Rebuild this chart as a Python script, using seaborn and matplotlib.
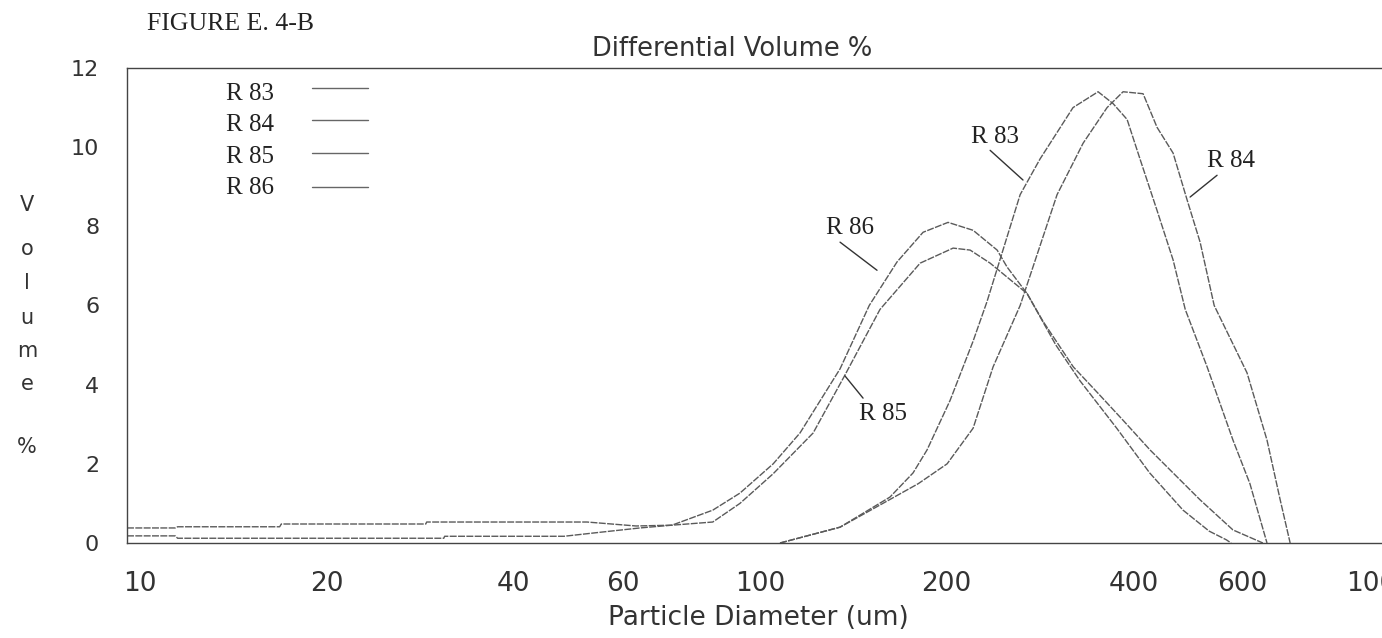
import numpy as np
import pandas as pd
import matplotlib
matplotlib.use("Agg")
import matplotlib.pyplot as plt
import seaborn as sns

# ---------------- data ----------------
runs = ["R 83", "R 84", "R 85", "R 86"]

r83_d = [107.7, 134.6, 162, 176.5, 185.9, 202.5, 220.6, 232.3, 262.7, 282.8, 319.7,
         350.9, 371, 390.8, 410, 436.8, 463.6, 485, 526, 579, 616.6, 657]
r83_v = [0, 0.4, 1.16, 1.77, 2.35, 3.6, 5.1, 6.1, 8.8, 9.7, 11.0,
         11.4, 11.1, 10.7, 9.7, 8.4, 7.15, 5.9, 4.45, 2.6, 1.5, 0]

r84_d = [107.7, 134.6, 162, 180, 200.3, 220.6, 237.6, 262.7, 301.3, 331.9, 362.8,
         385, 414.7, 436.8, 463.6, 488.5, 512.5, 540, 610, 657, 690, 716]
r84_v = [0, 0.4, 1.1, 1.5, 2.0, 2.9, 4.45, 6.0, 8.8, 10.1, 11.0,
         11.4, 11.35, 10.5, 9.85, 8.66, 7.6, 6.0, 4.3, 2.6, 1.09, 0]

r85_d = [9.53, 11.4, 11.5, 30.9, 31.0, 48.3, 54.4, 64.0, 72.1, 83.9, 92.8, 105,
         121.8, 136.6, 156.1, 181.2, 204.8, 218.2, 235, 269.6, 286, 320, 350, 385,
         425.6, 512.5, 579, 647]
r85_v = [0.18, 0.18, 0.12, 0.12, 0.17, 0.17, 0.26, 0.38, 0.45, 0.53, 1.0, 1.75,
         2.78, 4.2, 5.9, 7.07, 7.45, 7.4, 7.07, 6.3, 5.6, 4.45, 3.8, 3.1,
         2.35, 1.09, 0.33, 0]

r86_d = [9.53, 11.4, 11.5, 16.8, 16.9, 28.9, 29.0, 52.6, 63.1, 72.1, 83.9, 92.8,
         105, 116, 134.6, 150, 166.3, 183.2, 201, 220.6, 241.2, 250.3, 269.6, 300,
         328, 376, 425, 481, 530, 565, 575]
r86_v = [0.38, 0.38, 0.41, 0.41, 0.48, 0.48, 0.53, 0.53, 0.43, 0.45, 0.83, 1.26,
         2.0, 2.78, 4.4, 6.0, 7.1, 7.85, 8.1, 7.9, 7.4, 6.97, 6.3, 5.0,
         4.1, 2.9, 1.77, 0.83, 0.3, 0.08, 0]

x_ticks = [10, 20, 40, 60, 100, 200, 400, 600, 1000]
x_tick_labels = ["10", "20", "40", "60", "100", "200", "400", "600", "1000"]
y_ticks = [0, 2, 4, 6, 8, 10, 12]

# call-out labels: (label, text pos, leader start, leader end) in data units
callouts = [
    ("R 83", (239.3, 10.25), (235.0, 9.92), (265.5, 9.17)),
    ("R 84", (575.0, 9.65), (545.8, 9.29), (493.8, 8.74)),
    ("R 86", (139.7, 7.95), (134.6, 7.60), (154.4, 6.89)),
    ("R 85", (157.8, 3.26), (146.6, 3.66), (137.1, 4.22)),
]

series = {"R 83": (r83_d, r83_v), "R 84": (r84_d, r84_v),
          "R 85": (r85_d, r85_v), "R 86": (r86_d, r86_v)}
df = pd.concat([pd.DataFrame({"d": d, "v": v, "run": k}) for k, (d, v) in series.items()],
               ignore_index=True)

# ---------------- figure ----------------
sns.set_theme(style="white")
plt.rcParams["font.family"] = ["DejaVu Sans"]

W, H = 1382, 638
fig = plt.figure(figsize=(W / 100, H / 100), dpi=100)
fig.patch.set_facecolor("white")


def fx(px):
    return px / W


def fy(py):
    return 1 - py / H


ax = fig.add_axes([fx(127), fy(543), fx(1382 - 127), (543 - 68) / H])
ax.set_facecolor("white")

line_col = "#5a5a5a"
sns.lineplot(data=df, x="d", y="v", hue="run", palette={r: line_col for r in runs},
             estimator=None, sort=False, legend=False, linewidth=1.0, ax=ax)
for ln in ax.lines:
    ln.set_linestyle((0, (5, 1)))

ax.set_xscale("log")
ax.set_xlim(9.53, 1007)
ax.set_ylim(0, 12)

ax.set_xticks(x_ticks)
ax.set_xticklabels(x_tick_labels)
ax.set_xticks([80, 800], minor=True)
ax.set_xticklabels([], minor=True)
ax.set_yticks(y_ticks)
ax.set_yticklabels([str(t) for t in y_ticks])

narrow = ["DejaVu Sans"]
ax.tick_params(axis="x", which="major", direction="out", length=12, width=0.8,
               color="#555555", pad=8, labelsize=19, labelcolor="#333333")
ax.tick_params(axis="x", which="minor", direction="inout", length=6, width=0.8,
               color="#777777")
ax.tick_params(axis="y", direction="out", length=14, width=0.8,
               color="#555555", pad=6, labelsize=16, labelcolor="#333333")
ax.set_xlabel("")
ax.set_ylabel("")
ax.grid(False)

for side in ["left", "top", "bottom"]:
    ax.spines[side].set_visible(True)
    ax.spines[side].set_color("#444444")
    ax.spines[side].set_linewidth(1.0)
ax.spines["right"].set_visible(False)

# call-outs
for lab, tpos, p0, p1 in callouts:
    ax.text(tpos[0], tpos[1], lab, ha="center", va="center", fontsize=18,
            family="Liberation Serif", color="#222222")
    ax.plot([p0[0], p1[0]], [p0[1], p1[1]], color="#333333", lw=1.0)

# legend (text + line samples)
leg_y = [94, 125, 157, 188]
line_y = [88, 120, 153, 187]
for lab, ty, ly in zip(runs, leg_y, line_y):
    fig.text(fx(226), fy(ty), lab, ha="left", va="center", fontsize=18,
             family="Liberation Serif", color="#222222")
    fig.add_artist(plt.Line2D([fx(312), fx(368)], [fy(ly), fy(ly)], color="#666666",
                              lw=1.0, transform=fig.transFigure))

# titles / labels
fig.text(fx(147), fy(24), "FIGURE E. 4-B", ha="left", va="center", fontsize=18.5,
         family="Liberation Serif", color="#222222")
fig.text(fx(732), fy(49), "Differential Volume %", ha="center", va="center",
         fontsize=18.5, family=narrow, color="#333333")
fig.text(fx(758), fy(618), "Particle Diameter (um)", ha="center", va="center",
         fontsize=19, family=narrow, color="#333333")

ylab_letters = ["V", "o", "l", "u", "m", "e", "%"]
ylab_pos = [205, 249, 283, 318, 351, 384, 447]
for ch, py in zip(ylab_letters, ylab_pos):
    fig.text(fx(27), fy(py), ch, ha="center", va="center", fontsize=15,
             family=narrow, color="#333333")

fig.savefig("out.png", dpi=100, facecolor="white")
